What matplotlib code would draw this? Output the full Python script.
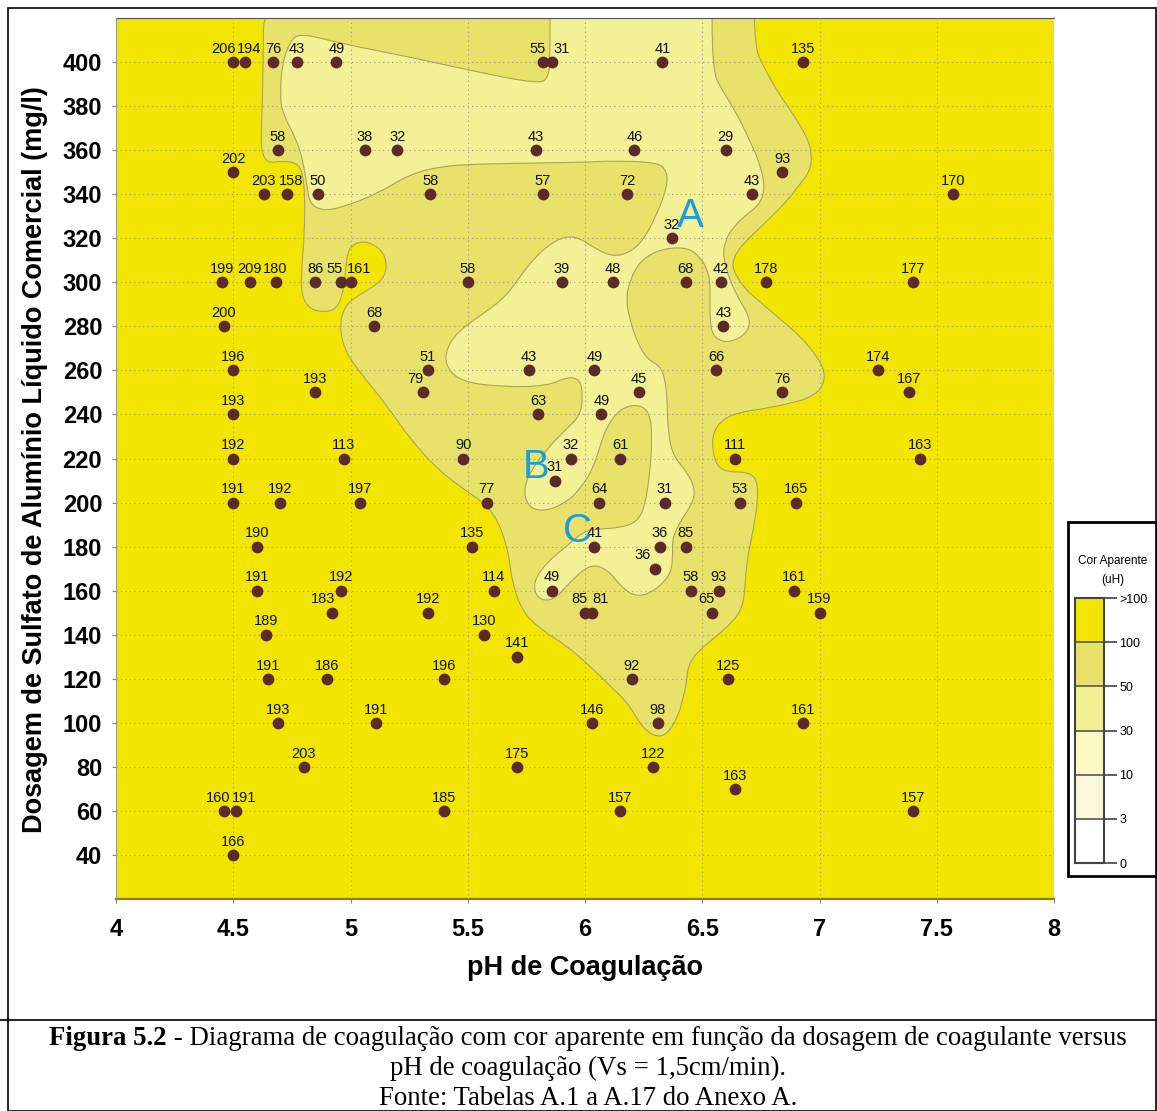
import matplotlib
matplotlib.use('Agg')
import matplotlib.pyplot as plt
from matplotlib.patches import PathPatch, Rectangle
from matplotlib.path import Path
from matplotlib.colors import ListedColormap, BoundaryNorm
from matplotlib.lines import Line2D
import matplotlib.colorbar as mcolorbar

plt.rcParams['font.family'] = ['Liberation Sans', 'DejaVu Sans']

# ensaios: pH de coagulacao, dosagem (mg/l) e cor aparente (uH)
ph = [4.50, 4.55, 4.67, 4.77, 4.94, 5.82, 5.86, 6.33, 6.93,
      4.69, 5.06, 5.20, 5.79, 6.21, 6.60,
      4.50, 6.84,
      4.63, 4.73, 4.86, 5.34, 5.82, 6.18, 6.71, 7.57,
      6.37,
      4.45, 4.57, 4.68, 4.85, 4.96, 5.00, 5.50, 5.90, 6.12, 6.43, 6.58, 6.77, 7.40,
      4.46, 5.10, 6.59,
      4.50, 5.33, 5.76, 6.04, 6.56, 7.25,
      4.85, 5.31, 6.23, 6.84, 7.38,
      4.50, 5.80, 6.07,
      4.50, 4.97, 5.48, 5.94, 6.15, 6.64, 7.43,
      5.87,
      4.50, 4.70, 5.04, 5.58, 6.06, 6.34, 6.66, 6.90,
      4.60, 5.52, 6.04, 6.32, 6.43,
      6.30,
      4.60, 4.96, 5.61, 5.86, 6.45, 6.57, 6.89,
      4.92, 5.33, 6.00, 6.03, 6.54, 7.00,
      4.64, 5.57,
      5.71,
      4.65, 4.90, 5.40, 6.20, 6.61,
      4.69, 5.11, 6.03, 6.31, 6.93,
      4.80, 5.71, 6.29,
      6.64,
      4.46, 4.51, 5.40, 6.15, 7.40,
      4.50]
dosagem = [400] * 9 + [360] * 6 + [350] * 2 + [340] * 8 + [320] + [300] * 13 + \
          [280] * 3 + [260] * 6 + [250] * 5 + [240] * 3 + [220] * 7 + [210] + \
          [200] * 8 + [180] * 5 + [170] + [160] * 7 + [150] * 6 + [140] * 2 + \
          [130] + [120] * 5 + [100] * 5 + [80] * 3 + [70] + [60] * 5 + [40]
cor = [206, 194, 76, 43, 49, 55, 31, 41, 135,
       58, 38, 32, 43, 46, 29,
       202, 93,
       203, 158, 50, 58, 57, 72, 43, 170,
       32,
       199, 209, 180, 86, 55, 161, 58, 39, 48, 68, 42, 178, 177,
       200, 68, 43,
       196, 51, 43, 49, 66, 174,
       193, 79, 45, 76, 167,
       193, 63, 49,
       192, 113, 90, 32, 61, 111, 163,
       31,
       191, 192, 197, 77, 64, 31, 53, 165,
       190, 135, 41, 36, 85,
       36,
       191, 192, 114, 49, 58, 93, 161,
       183, 192, 85, 81, 65, 159,
       189, 130,
       141,
       191, 186, 196, 92, 125,
       193, 191, 146, 98, 161,
       203, 175, 122,
       163,
       160, 191, 185, 157, 157,
       166]

# rotulos que saem do centro do ponto (deslocamento horizontal em pt)
desloc_rotulo = {(4.50, 400): -7, (4.55, 400): 3, (5.82, 400): -4, (5.86, 400): 7,
                 (4.73, 340): 3, (4.96, 300): -5, (5.00, 300): 6,
                 (5.31, 250): -6, (6.30, 170): -9,
                 (4.92, 150): -6, (6.00, 150): -4, (6.03, 150): 6, (6.54, 150): -4,
                 (4.46, 60): -4, (4.51, 60): 6}

# linha de 100 uH (pH, dosagem)
curva_100 = [(4.631, 440), (4.627, 391.4), (4.618, 365.0), (4.623, 358.2), (4.648, 354.2),
             (4.712, 355.1), (4.772, 354.2), (4.797, 349.2), (4.806, 337.8), (4.802, 319.7),
             (4.789, 302.9), (4.793, 293.3), (4.827, 287.9), (4.878, 286.5), (4.934, 287.4),
             (4.964, 293.3), (4.977, 302.9), (4.985, 312.8), (5.006, 316.9), (5.049, 318.7),
             (5.096, 317.4), (5.139, 313.8), (5.156, 307.4), (5.139, 301.5), (5.083, 297.0),
             (5.028, 293.8), (4.977, 289.2), (4.955, 282.0), (4.964, 272.9), (4.998, 265.2),
             (5.053, 257.5), (5.156, 243.9), (5.254, 228.9), (5.369, 215.3), (5.480, 206.2),
             (5.565, 200.3), (5.625, 192.6), (5.667, 180.3), (5.680, 171.2), (5.697, 160.8),
             (5.736, 150.3), (5.808, 142.6), (5.923, 134.9), (6.021, 125.8), (6.107, 116.7),
             (6.179, 109.5), (6.222, 101.8), (6.264, 95.9), (6.311, 93.6), (6.350, 95.0),
             (6.392, 101.8), (6.418, 110.8), (6.435, 119.9), (6.439, 125.8), (6.478, 132.2),
             (6.546, 138.1), (6.631, 145.8), (6.674, 153.1), (6.682, 162.1), (6.691, 174.4),
             (6.716, 186.7), (6.738, 201.6), (6.733, 210.7), (6.691, 213.9), (6.605, 213.9),
             (6.563, 216.6), (6.542, 224.3), (6.546, 232.0), (6.588, 237.9), (6.661, 241.1),
             (6.759, 242.5), (6.904, 245.7), (6.972, 248.4), (7.015, 252.9), (7.023, 259.3),
             (6.989, 266.5), (6.917, 275.6), (6.832, 283.3), (6.746, 291.1), (6.682, 297.0),
             (6.640, 303.8), (6.627, 308.3), (6.648, 314.2), (6.704, 320.6), (6.776, 327.8),
             (6.861, 336.9), (6.917, 344.6), (6.959, 350.5), (6.968, 358.2), (6.947, 366.0),
             (6.887, 376.4), (6.819, 386.8), (6.755, 399.1), (6.725, 406.8), (6.716, 440)]

# linha de 50 uH (pH, dosagem)
curva_50 = [(5.765, 213.9), (5.838, 224.3), (5.906, 232.0), (5.979, 239.3), (5.991, 248.4),
            (5.979, 256.1), (5.923, 257.0), (5.838, 252.9), (5.650, 252.5), (5.480, 254.7),
            (5.412, 260.6), (5.403, 268.4), (5.454, 277.4), (5.552, 284.7), (5.667, 293.8),
            (5.753, 307.4), (5.838, 316.5), (5.906, 320.6), (5.966, 320.6), (6.034, 316.0),
            (6.107, 311.9), (6.179, 312.8), (6.247, 318.7), (6.307, 331.0), (6.350, 343.3),
            (6.350, 350.5), (6.307, 354.6), (6.107, 355.1), (6.021, 354.6), (5.821, 354.2),
            (5.539, 353.7), (5.394, 352.8), (5.254, 349.2), (5.113, 340.1), (4.968, 334.2),
            (4.883, 332.4), (4.827, 335.5), (4.815, 343.3), (4.797, 355.1), (4.772, 364.1),
            (4.712, 376.4), (4.699, 384.1), (4.708, 399.1), (4.742, 409.5), (4.785, 413.2),
            (4.968, 408.2), (5.254, 402.3), (5.539, 395.5), (5.808, 390.0), (5.842, 393.2),
            (5.851, 399.1), (5.851, 440), (6.542, 440), (6.542, 395.9), (6.588, 386.8),
            (6.648, 376.4), (6.704, 364.1), (6.746, 353.7), (6.768, 343.3), (6.746, 335.5),
            (6.691, 331.0), (6.631, 325.1), (6.597, 318.7), (6.588, 311.5), (6.618, 300.6),
            (6.661, 291.5), (6.695, 285.6), (6.704, 280.2), (6.674, 275.6), (6.631, 273.4),
            (6.588, 272.9), (6.546, 275.6), (6.533, 282.0), (6.533, 292.4), (6.533, 300.6),
            (6.520, 306.0), (6.490, 311.5), (6.435, 316.0), (6.320, 315.1), (6.234, 309.7),
            (6.190, 300.6), (6.175, 292.4), (6.190, 283.3), (6.222, 272.9), (6.264, 265.2),
            (6.320, 262.0), (6.341, 256.1), (6.350, 247.0), (6.354, 232.0), (6.375, 221.2),
            (6.435, 213.9), (6.469, 206.2), (6.461, 200.3), (6.405, 191.2), (6.371, 183.5),
            (6.375, 174.4), (6.362, 166.7), (6.290, 159.4), (6.222, 157.2), (6.162, 160.8),
            (6.094, 169.9), (6.021, 172.1), (5.936, 163.9), (5.864, 155.3), (5.795, 156.2),
            (5.778, 163.9), (5.838, 173.0), (5.923, 180.3), (5.991, 186.7), (6.051, 188.0),
            (6.149, 188.5), (6.222, 191.2), (6.256, 198.5), (6.277, 213.9), (6.286, 228.9),
            (6.277, 241.1), (6.222, 244.8), (6.149, 242.5), (6.094, 234.8), (6.064, 225.7),
            (6.034, 215.3), (5.979, 206.2), (5.923, 200.3), (5.838, 196.2), (5.765, 197.1),
            (5.736, 204.8)]

# regioes destacadas
regioes = ['A', 'B', 'C']
regioes_ph = [6.45, 5.79, 5.97]
regioes_dos = [330, 216, 187]

# escala de cor aparente
faixa_rotulos = ['0', '3', '10', '30', '50', '100', '>100']
faixa_cores = ['#ffffff', '#fbf7da', '#fbf9c0', '#f3f096', '#e8e26a', '#f2e600']

x_ticks = [4, 4.5, 5, 5.5, 6, 6.5, 7, 7.5, 8]
x_rotulos = ['4', '4.5', '5', '5.5', '6', '6.5', '7', '7.5', '8']
y_ticks = list(range(40, 401, 20))


def curva_suave(pontos):
    # contorno fechado com segmentos quadraticos entre os pontos medios
    n = len(pontos)
    meio = [((pontos[i][0] + pontos[(i + 1) % n][0]) / 2,
             (pontos[i][1] + pontos[(i + 1) % n][1]) / 2) for i in range(n)]
    verts = [meio[-1]]
    codes = [Path.MOVETO]
    for i in range(n):
        verts += [pontos[i], meio[i]]
        codes += [Path.CURVE3, Path.CURVE3]
    return Path(verts, codes)


fig = plt.figure(figsize=(11.57, 11.11), dpi=100)
ax = fig.add_axes([0.1003, 0.1908, 0.8107, 0.7930])
ax.set_facecolor(faixa_cores[5])

borda = '#aaa45a'
ax.add_patch(PathPatch(curva_suave(curva_100), fc=faixa_cores[4], ec=borda, lw=0.8, zorder=1))
ax.add_patch(PathPatch(curva_suave(curva_50), fc=faixa_cores[3], ec=borda, lw=0.8, zorder=1.1))

ax.scatter(ph, dosagem, s=72, c='#5b2a2a', linewidths=0, zorder=3)
for x, y, v in zip(ph, dosagem, cor):
    dx = desloc_rotulo.get((x, y), 0)
    ax.annotate(str(v), (x, y), xytext=(dx, 4.5), textcoords='offset points',
                ha='center', va='bottom', fontsize=10.5, color='#111111', zorder=4)

for letra, x, y in zip(regioes, regioes_ph, regioes_dos):
    ax.text(x, y, letra, fontsize=29, color='#1a9de0', ha='center', va='center', zorder=4)

ax.set_xlim(4, 8)
ax.set_ylim(20, 420)
ax.set_xticks(x_ticks)
ax.set_xticklabels(x_rotulos)
ax.set_yticks(y_ticks)
ax.tick_params(axis='both', labelsize=17, length=3, color='#888888')
ax.tick_params(axis='x', pad=10.5)
ax.tick_params(axis='y', pad=7)
for lab in ax.get_xticklabels() + ax.get_yticklabels():
    lab.set_fontweight('bold')
ax.grid(True, ls=(0, (1, 3)), color='#a09c80', lw=0.8)
ax.set_axisbelow(False)

ax.spines['right'].set_visible(False)
ax.spines['top'].set_color('#555555')
ax.spines['left'].set_color('#999999')
ax.spines['bottom'].set_color('#8a8200')
ax.spines['bottom'].set_linewidth(1.6)

fig.text(0.5056, 0.1287, 'pH de Coagulação', fontsize=19.5, fontweight='bold',
         ha='center', va='center')
fig.text(0.0302, 0.586, 'Dosagem de Sulfato de Alumínio Líquido Comercial (mg/l)',
         fontsize=19.5, fontweight='bold', rotation=90, ha='center', va='center')

# legenda em barra
fig.add_artist(Rectangle((0.9231, 0.2115), 0.0769, 0.3185, transform=fig.transFigure,
                         fc='white', ec='black', lw=2, zorder=-1))
fig.text(0.962, 0.4950, 'Cor Aparente', fontsize=8.5, ha='center', va='center')
fig.text(0.962, 0.4780, '(uH)', fontsize=8.5, ha='center', va='center')
cax = fig.add_axes([0.9291, 0.2232, 0.0251, 0.2385])
cmap = ListedColormap(faixa_cores)
norm = BoundaryNorm(range(len(faixa_rotulos)), cmap.N)
cb = mcolorbar.ColorbarBase(cax, cmap=cmap, norm=norm, orientation='vertical',
                            ticks=range(len(faixa_rotulos)))
cb.set_ticklabels(faixa_rotulos)
cb.outline.set_edgecolor('#444444')
cb.outline.set_linewidth(1.5)
for b in range(1, len(faixa_cores)):
    cax.axhline(b, color='#555555', lw=1.2)
cax.tick_params(length=9, width=1.2, color='#444444', labelsize=9, pad=2)

# moldura e legenda da figura
fig.add_artist(Rectangle((0.0069, 0.0), 0.9922, 0.9928, transform=fig.transFigure,
                         fc='none', ec='black', lw=1.2))
fig.add_artist(Line2D([0, 1], [0.0819, 0.0819], transform=fig.transFigure,
                      color='black', lw=1.2))
serif = ['Liberation Serif', 'DejaVu Serif']
t1 = fig.text(0, 0.0657, 'Figura 5.2', family=serif, fontsize=19.3, fontweight='bold',
              ha='left', va='center')
t2 = fig.text(0, 0.0657, ' - Diagrama de coagulação com cor aparente em função da dosagem '
              'de coagulante versus', family=serif, fontsize=19.3, ha='left', va='center')
fig.text(0.5082, 0.0387, 'pH de coagulação (Vs = 1,5cm/min).', family=serif, fontsize=19.3,
         ha='center', va='center')
fig.text(0.5082, 0.0117, 'Fonte: Tabelas A.1 a A.17 do Anexo A.', family=serif, fontsize=19.3,
         ha='center', va='center')

# centraliza a primeira linha (parte em negrito + resto)
rend = fig.canvas.get_renderer()
larg = fig.bbox.width
w1 = t1.get_window_extent(rend).width
w2 = t2.get_window_extent(rend).width
x0 = 0.5082 * larg - (w1 + w2) / 2
t1.set_x(x0 / larg)
t2.set_x((x0 + w1) / larg)

fig.savefig('out.png', dpi=100)
